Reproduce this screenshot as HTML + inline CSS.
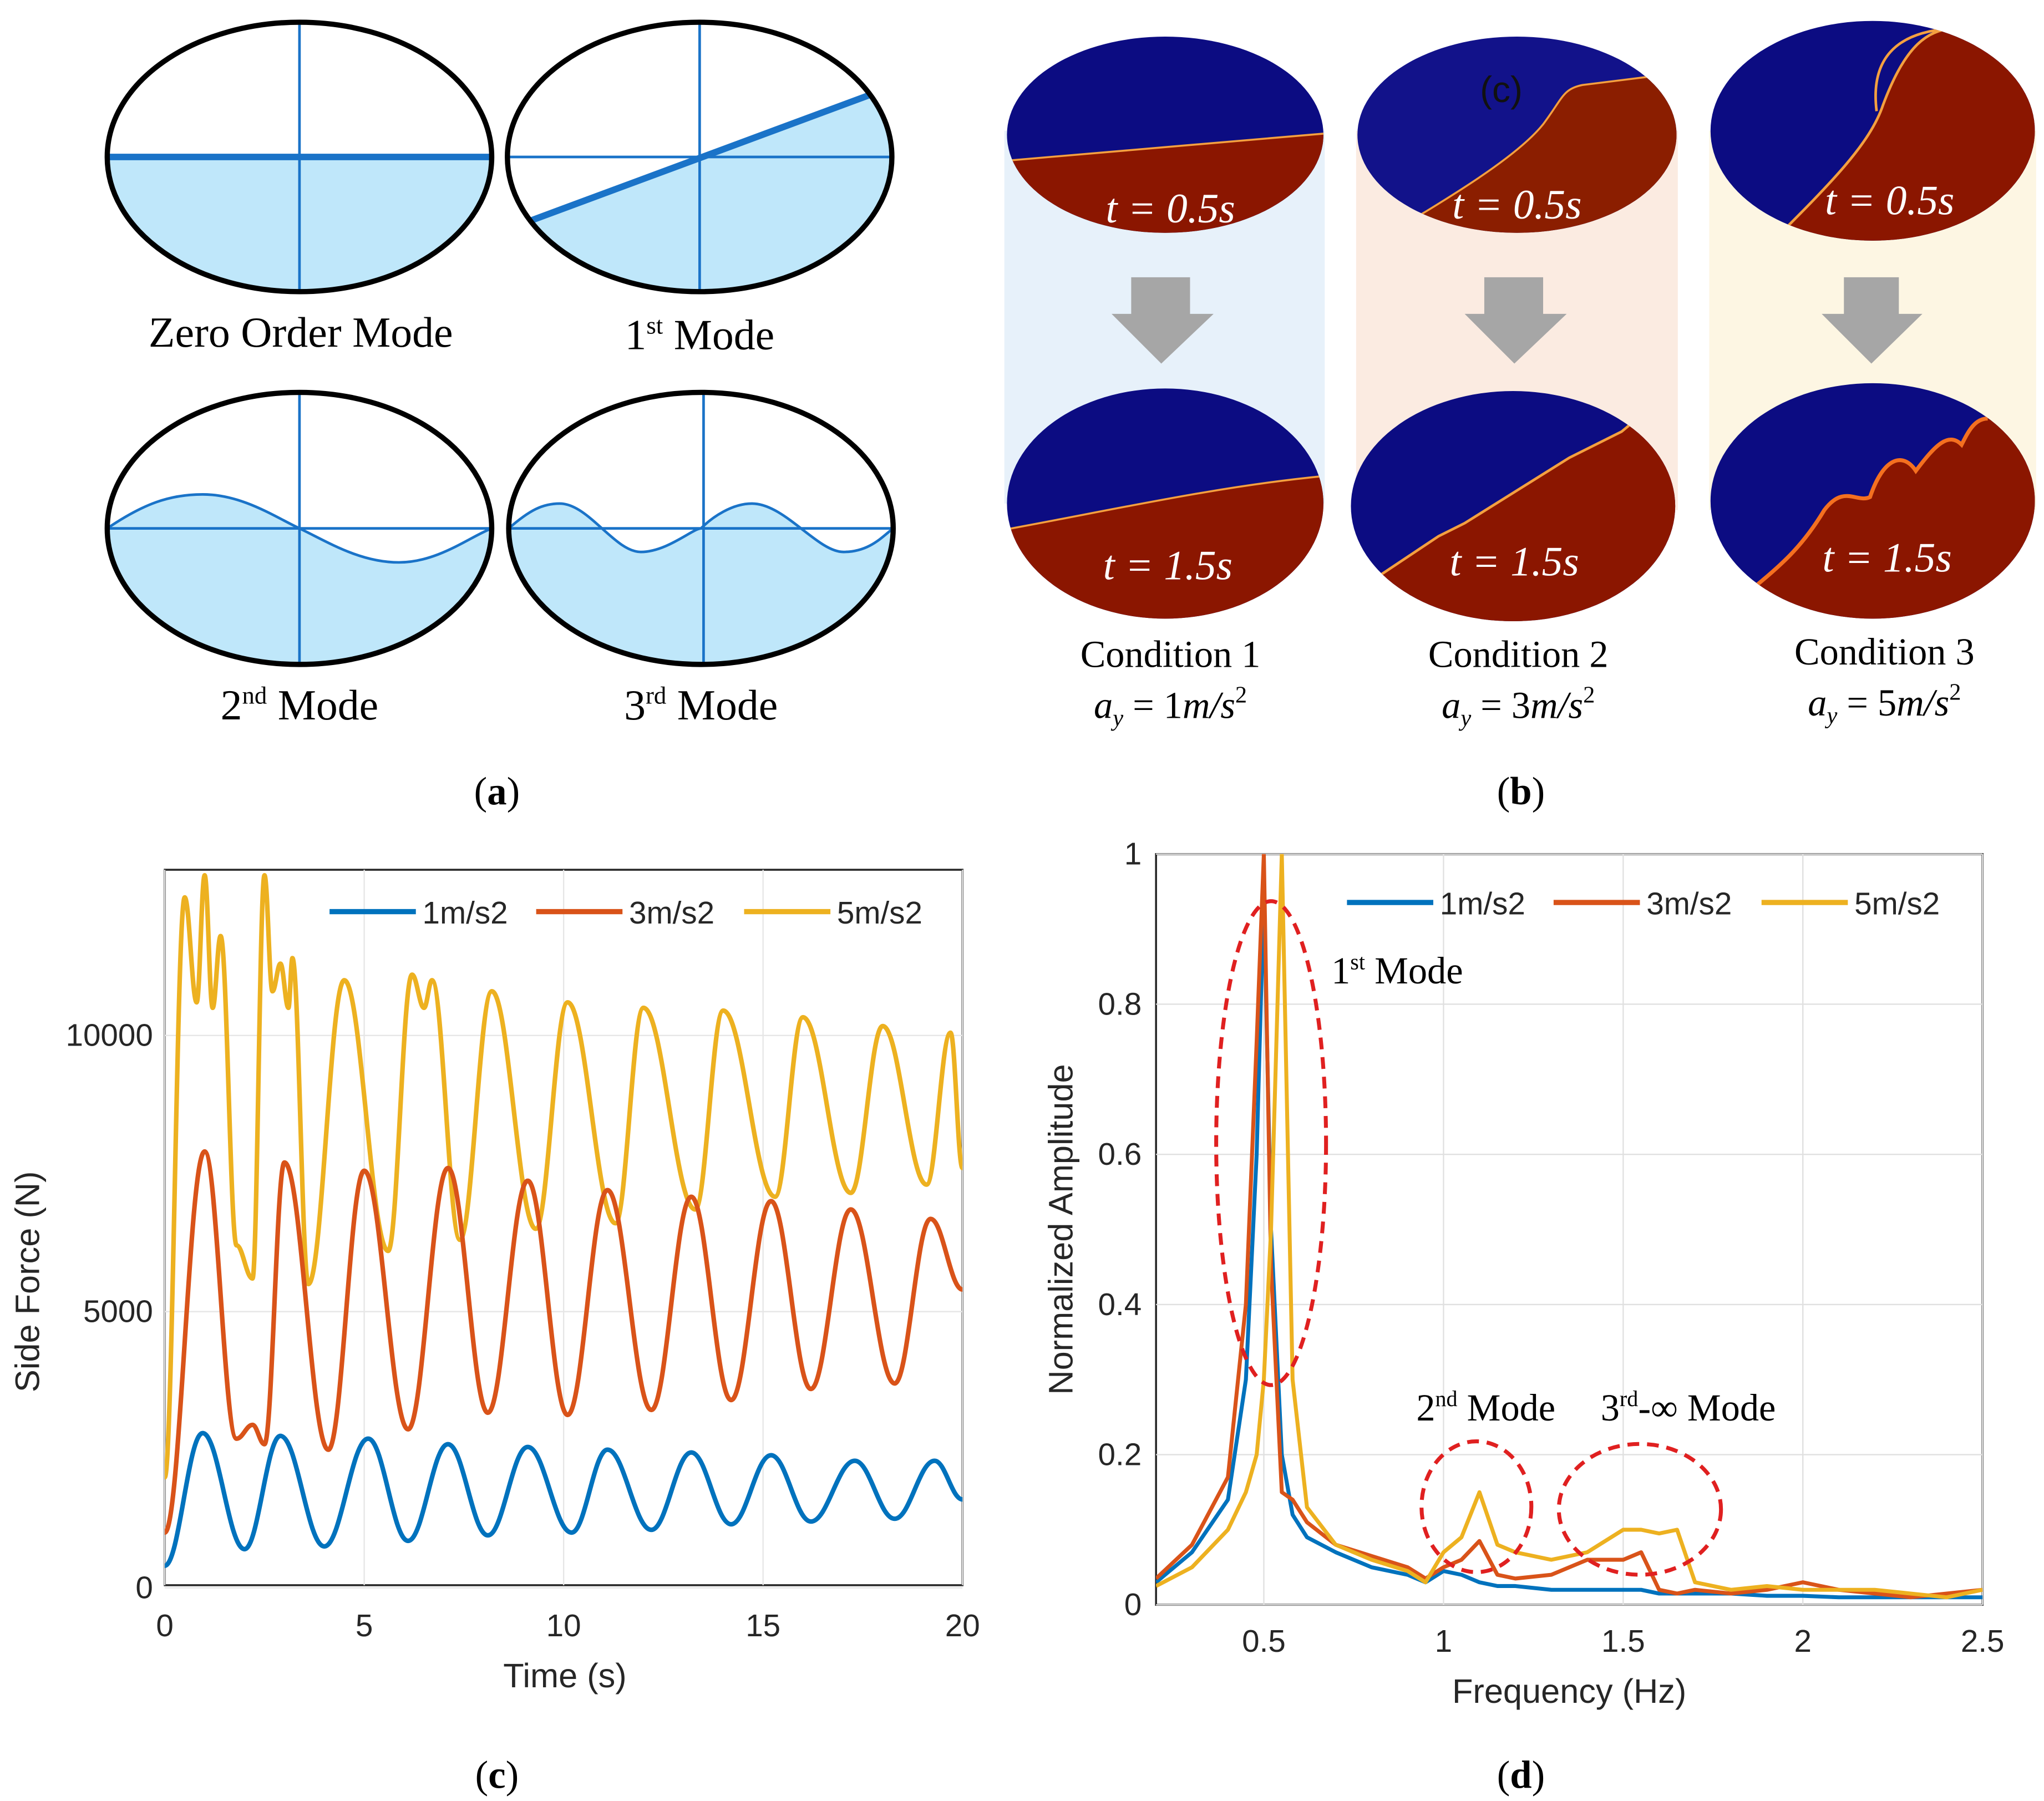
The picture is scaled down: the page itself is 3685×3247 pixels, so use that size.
<!DOCTYPE html>
<html><head><meta charset="utf-8">
<style>
html,body{margin:0;padding:0;background:#fff;}
svg{display:block;}
.serif{font-family:"Liberation Serif",serif;}
.sans{font-family:"Liberation Sans",sans-serif;}
</style></head>
<body>
<svg id="fig" width="3685" height="3247" viewBox="0 0 1563 1377" preserveAspectRatio="none" xmlns="http://www.w3.org/2000/svg">
<defs>
<clipPath id="e1"><ellipse cx="229" cy="120" rx="147" ry="103"/></clipPath>
<clipPath id="e2"><ellipse cx="535" cy="120" rx="147" ry="103"/></clipPath>
<clipPath id="e3"><ellipse cx="229" cy="404" rx="147" ry="104"/></clipPath>
<clipPath id="e4"><ellipse cx="536" cy="404" rx="147" ry="104"/></clipPath>
<clipPath id="b1"><ellipse cx="891" cy="103" rx="121" ry="75"/></clipPath>
<clipPath id="b2"><ellipse cx="1160" cy="103" rx="122" ry="75"/></clipPath>
<clipPath id="b3"><ellipse cx="1432" cy="100" rx="124" ry="84"/></clipPath>
<clipPath id="b4"><ellipse cx="891" cy="385" rx="121" ry="88"/></clipPath>
<clipPath id="b5"><ellipse cx="1157" cy="387" rx="124" ry="88"/></clipPath>
<clipPath id="b6"><ellipse cx="1432" cy="383" rx="124" ry="90"/></clipPath>
<clipPath id="pc"><rect x="126" y="665" width="610" height="547"/></clipPath>
<clipPath id="pd"><rect x="884" y="653" width="632" height="574"/></clipPath>
</defs>

<!-- Panel A -->
<g>
 <g>
  <rect x="80" y="120" width="300" height="110" fill="#bfe7fa" clip-path="url(#e1)"/>
  <line x1="229" y1="17" x2="229" y2="223" stroke="#1a73c8" stroke-width="2"/>
  <line x1="82" y1="120" x2="376" y2="120" stroke="#1a73c8" stroke-width="5"/>
  <ellipse cx="229" cy="120" rx="147" ry="103" fill="none" stroke="#000" stroke-width="4"/>
 </g>
 <g>
  <polygon points="380,176 690,62 690,230 380,230" fill="#bfe7fa" clip-path="url(#e2)"/>
  <line x1="388" y1="120" x2="682" y2="120" stroke="#1a73c8" stroke-width="2"/>
  <line x1="535" y1="17" x2="535" y2="223" stroke="#1a73c8" stroke-width="2"/>
  <line x1="405" y1="169" x2="664" y2="73" stroke="#1a73c8" stroke-width="5"/>
  <ellipse cx="535" cy="120" rx="147" ry="103" fill="none" stroke="#000" stroke-width="4"/>
 </g>
 <g>
  <path d="M82,404 C110,385 130,378 155,378 C185,378 210,395 229,404 C250,414 275,430 305,430 C335,430 360,410 376,404 L380,520 L78,520 Z" fill="#bfe7fa" clip-path="url(#e3)"/>
  <path d="M82,404 C110,385 130,378 155,378 C185,378 210,395 229,404 C250,414 275,430 305,430 C335,430 360,410 376,404" fill="none" stroke="#1a73c8" stroke-width="2"/>
  <line x1="82" y1="404" x2="376" y2="404" stroke="#1a73c8" stroke-width="2"/>
  <line x1="229" y1="300" x2="229" y2="508" stroke="#1a73c8" stroke-width="2"/>
  <ellipse cx="229" cy="404" rx="147" ry="104" fill="none" stroke="#000" stroke-width="4"/>
 </g>
 <g>
  <path d="M389,404 C405,390 415,385 428,385 C450,385 470,422 490,422 C510,422 530,404 536,404 C545,395 560,385 575,385 C600,385 625,422 645,422 C665,422 675,410 683,404 L690,520 L385,520 Z" fill="#bfe7fa" clip-path="url(#e4)"/>
  <path d="M389,404 C405,390 415,385 428,385 C450,385 470,422 490,422 C510,422 530,404 536,404 C545,395 560,385 575,385 C600,385 625,422 645,422 C665,422 675,410 683,404" fill="none" stroke="#1a73c8" stroke-width="2"/>
  <line x1="389" y1="404" x2="683" y2="404" stroke="#1a73c8" stroke-width="2"/>
  <line x1="538" y1="300" x2="538" y2="508" stroke="#1a73c8" stroke-width="2"/>
  <ellipse cx="536" cy="404" rx="147" ry="104" fill="none" stroke="#000" stroke-width="4"/>
 </g>
 <text class="serif" x="230" y="265" font-size="33" text-anchor="middle">Zero Order Mode</text>
 <text class="serif" x="535" y="267" font-size="33" text-anchor="middle">1<tspan font-size="19" dy="-12">st</tspan><tspan dy="12"> Mode</tspan></text>
 <text class="serif" x="229" y="550" font-size="33" text-anchor="middle">2<tspan font-size="19" dy="-12">nd</tspan><tspan dy="12"> Mode</tspan></text>
 <text class="serif" x="536" y="550" font-size="33" text-anchor="middle">3<tspan font-size="19" dy="-12">rd</tspan><tspan dy="12"> Mode</tspan></text>
 <text class="serif" x="380" y="615" font-size="30" text-anchor="middle">(<tspan font-weight="bold">a</tspan>)</text>
</g>

<!-- Panel B -->
<g>
 <rect x="768" y="100" width="245" height="285" fill="#e7f1fa"/>
 <rect x="1037" y="100" width="246" height="290" fill="#fbebe1"/>
 <rect x="1307" y="100" width="250" height="290" fill="#fdf6e3"/>
 <g fill="#a6a6a6">
  <polygon points="865,212 910,212 910,240 928,240 888,278 850,240 865,240"/>
  <polygon points="1135,212 1180,212 1180,240 1198,240 1158,278 1120,240 1135,240"/>
  <polygon points="1410,212 1452,212 1452,240 1470,240 1431,278 1393,240 1410,240"/>
 </g>
 <g clip-path="url(#b1)">
  <rect x="760" y="20" width="260" height="170" fill="#0c0c82"/>
  <polygon points="768,123 1014,102 1014,190 768,190" fill="#8b1600"/>
  <line x1="768" y1="123" x2="1014" y2="102" stroke="#f4a040" stroke-width="1.5"/>
 </g>
 <g clip-path="url(#b2)">
  <rect x="1030" y="20" width="260" height="170" fill="#12128a"/>
  <path d="M1060,180 C1110,150 1160,120 1180,95 C1195,75 1195,68 1210,65 L1290,55 L1290,190 L1030,190 Z" fill="#8b1e00"/>
  <path d="M1060,180 C1110,150 1160,120 1180,95 C1195,75 1195,68 1210,65 L1290,55" fill="none" stroke="#f4a040" stroke-width="1.5"/>
  <text class="sans" x="1148" y="78" font-size="28" fill="#111" text-anchor="middle">(c)</text>
 </g>
 <g clip-path="url(#b3)">
  <rect x="1300" y="10" width="270" height="190" fill="#0c0c82"/>
  <path d="M1355,185 C1400,140 1430,110 1440,80 C1455,40 1470,25 1490,22 L1570,10 L1570,200 L1300,200 Z" fill="#8b1600"/>
  <path d="M1355,185 C1400,140 1430,110 1440,80 C1455,40 1470,25 1490,22 M1490,22 C1450,25 1430,45 1435,85" fill="none" stroke="#f4a040" stroke-width="2"/>
 </g>
 <g clip-path="url(#b4)">
  <rect x="760" y="290" width="260" height="190" fill="#0c0c82"/>
  <path d="M768,405 C850,390 930,372 1012,364 L1012,480 L768,480 Z" fill="#8b1600"/>
  <path d="M768,405 C850,390 930,372 1012,364" fill="none" stroke="#f4a040" stroke-width="1.5"/>
 </g>
 <g clip-path="url(#b5)">
  <rect x="1030" y="290" width="260" height="190" fill="#0c0c82"/>
  <path d="M1055,440 L1070,430 L1085,420 L1100,410 L1120,400 L1160,375 L1200,350 L1240,330 L1252,320 L1290,330 L1290,480 L1030,480 Z" fill="#8b1600"/>
  <path d="M1055,440 L1070,430 L1085,420 L1100,410 L1120,400 L1160,375 L1200,350 L1240,330 L1252,320" fill="none" stroke="#f4a040" stroke-width="2"/>
 </g>
 <g clip-path="url(#b6)">
  <rect x="1300" y="285" width="270" height="200" fill="#0c0c82"/>
  <path d="M1340,450 C1365,430 1380,415 1395,390 C1410,370 1420,385 1430,380 C1440,350 1455,345 1465,360 C1480,340 1490,330 1500,340 C1505,330 1510,320 1520,320 L1570,330 L1570,485 L1300,485 Z" fill="#8b1600"/>
  <path d="M1340,450 C1365,430 1380,415 1395,390 C1410,370 1420,385 1430,380 C1440,350 1455,345 1465,360 C1480,340 1490,330 1500,340 C1505,330 1510,320 1520,320" fill="none" stroke="#f47020" stroke-width="3"/>
 </g>
 <g class="serif" fill="#fff" font-size="32" font-style="italic" text-anchor="middle">
  <text x="895" y="170">t = 0.5s</text>
  <text x="1160" y="167">t = 0.5s</text>
  <text x="1445" y="164">t = 0.5s</text>
  <text x="893" y="443">t = 1.5s</text>
  <text x="1158" y="440">t = 1.5s</text>
  <text x="1443" y="437">t = 1.5s</text>
 </g>
 <g class="serif" font-size="29" text-anchor="middle" fill="#000">
  <text x="895" y="510">Condition 1</text>
  <text x="1161" y="510">Condition 2</text>
  <text x="1441" y="508">Condition 3</text>
  <text x="895" y="549" font-style="italic">a<tspan font-size="18" dy="6">y</tspan><tspan dy="-6" font-style="normal"> = 1</tspan>m/s<tspan font-size="18" dy="-12" font-style="normal">2</tspan></text>
  <text x="1161" y="549" font-style="italic">a<tspan font-size="18" dy="6">y</tspan><tspan dy="-6" font-style="normal"> = 3</tspan>m/s<tspan font-size="18" dy="-12" font-style="normal">2</tspan></text>
  <text x="1441" y="547" font-style="italic">a<tspan font-size="18" dy="6">y</tspan><tspan dy="-6" font-style="normal"> = 5</tspan>m/s<tspan font-size="18" dy="-12" font-style="normal">2</tspan></text>
 </g>
 <text class="serif" x="1163" y="615" font-size="30" text-anchor="middle">(<tspan font-weight="bold">b</tspan>)</text>
</g>

<!-- Panel C -->
<g id="chartC">
 <rect x="126" y="665" width="610" height="547" fill="#fff" stroke="#262626" stroke-width="1.5"/>
 <g id="cGrid"></g>
 <g id="cSeries" clip-path="url(#pc)"></g>
 <g id="cTicks" class="sans" font-size="24" fill="#262626"></g>
 <text class="sans" x="432" y="1290" font-size="26" text-anchor="middle" fill="#262626">Time (s)</text>
 <text class="sans" x="30" y="980" font-size="26" text-anchor="middle" fill="#262626" transform="rotate(-90 30 980)">Side Force (N)</text>
 <g class="sans" font-size="24" fill="#262626">
  <line x1="252" y1="697" x2="318" y2="697" stroke="#0072bd" stroke-width="4"/><text x="323" y="706">1m/s2</text>
  <line x1="410" y1="697" x2="476" y2="697" stroke="#d95319" stroke-width="4"/><text x="481" y="706">3m/s2</text>
  <line x1="569" y1="697" x2="635" y2="697" stroke="#edb120" stroke-width="4"/><text x="640" y="706">5m/s2</text>
 </g>
 <text class="serif" x="380" y="1367" font-size="30" text-anchor="middle">(<tspan font-weight="bold">c</tspan>)</text>
</g>

<!-- Panel D -->
<g id="chartD">
 <rect x="884" y="653" width="632" height="574" fill="#fff" stroke="#262626" stroke-width="1.5"/>
 <g id="dGrid"></g>
 <g id="dSeries" clip-path="url(#pd)"></g>
 <g id="dTicks" class="sans" font-size="24" fill="#262626"></g>
 <text class="sans" x="1200" y="1302" font-size="26" text-anchor="middle" fill="#262626">Frequency (Hz)</text>
 <text class="sans" x="820" y="940" font-size="26" text-anchor="middle" fill="#262626" transform="rotate(-90 820 940)">Normalized Amplitude</text>
 <g class="sans" font-size="24" fill="#262626">
  <line x1="1030" y1="690" x2="1096" y2="690" stroke="#0072bd" stroke-width="4"/><text x="1101" y="699">1m/s2</text>
  <line x1="1188" y1="690" x2="1254" y2="690" stroke="#d95319" stroke-width="4"/><text x="1259" y="699">3m/s2</text>
  <line x1="1347" y1="690" x2="1413" y2="690" stroke="#edb120" stroke-width="4"/><text x="1418" y="699">5m/s2</text>
 </g>
 <g fill="none" stroke="#e02020" stroke-width="3" stroke-dasharray="9,6">
  <ellipse cx="972" cy="874" rx="42" ry="185"/>
  <ellipse cx="1129" cy="1152" rx="42" ry="50"/>
  <ellipse cx="1254" cy="1154" rx="62" ry="50"/>
 </g>
 <g class="serif" font-size="29" fill="#000">
  <text x="1018" y="752">1<tspan font-size="17" dy="-11">st</tspan><tspan dy="11"> Mode</tspan></text>
  <text x="1083" y="1086">2<tspan font-size="17" dy="-11">nd</tspan><tspan dy="11"> Mode</tspan></text>
  <text x="1224" y="1086">3<tspan font-size="17" dy="-11">rd</tspan><tspan dy="11">-∞ Mode</tspan></text>
 </g>
 <text class="serif" x="1163" y="1367" font-size="30" text-anchor="middle">(<tspan font-weight="bold">d</tspan>)</text>
</g>
</svg>

<script>
// ---- Chart C data ----
const cTimes1 = [0, 0.95, 2.0, 2.9, 4.0, 5.1, 6.1, 7.1, 8.1, 9.1, 10.2, 11.1, 12.2, 13.2, 14.2, 15.2, 16.2, 17.3, 18.3, 19.3, 20];
const cForce1 = [400, 2800, 700, 2750, 750, 2700, 850, 2600, 950, 2550, 1000, 2500, 1050, 2450, 1150, 2400, 1200, 2300, 1250, 2300, 1600];
const cTimes3 = [0, 1.0, 1.8, 2.2, 2.5, 3.0, 4.1, 5.0, 6.1, 7.1, 8.1, 9.1, 10.1, 11.1, 12.2, 13.2, 14.2, 15.2, 16.2, 17.2, 18.3, 19.2, 20];
const cForce3 = [1000, 7900, 2700, 2950, 2600, 7700, 2500, 7550, 2870, 7600, 3170, 7370, 3130, 7200, 3220, 7080, 3400, 7000, 3600, 6850, 3700, 6680, 5400];
const cTimes5 = [0, 0.5, 0.8, 1.0, 1.2, 1.4, 1.8, 2.2, 2.5, 2.7, 2.9, 3.1, 3.2, 3.6, 4.5, 5.6, 6.2, 6.5, 6.7, 7.4, 8.2, 9.3, 10.1, 11.3, 12.0, 13.3, 14.0, 15.3, 16.0, 17.2, 18.0, 19.1, 19.7, 20];
const cForce5 = [2000, 12500, 10600, 12900, 10500, 11800, 6200, 5600, 12900, 10800, 11300, 10500, 11400, 5500, 11000, 6100, 11100, 10500, 11000, 6300, 10800, 6500, 10600, 6600, 10500, 6850, 10450, 7080, 10330, 7150, 10170, 7300, 10050, 7600];
const cXTicks = [0, 5, 10, 15, 20];
const cYTicks = [0, 5000, 10000];

// ---- Chart D data ----
const dFreq = [0.2,0.3,0.4,0.45,0.48,0.5,0.52,0.55,0.58,0.62,0.7,0.8,0.9,0.95,1.0,1.05,1.1,1.15,1.2,1.3,1.4,1.5,1.55,1.6,1.65,1.7,1.8,1.9,2.0,2.1,2.2,2.3,2.4,2.5];
const dAmp1 = [0.03,0.07,0.14,0.3,0.6,0.95,0.5,0.2,0.12,0.09,0.07,0.05,0.04,0.03,0.045,0.04,0.03,0.025,0.025,0.02,0.02,0.02,0.02,0.015,0.015,0.015,0.015,0.012,0.012,0.01,0.01,0.01,0.01,0.01];
const dAmp3 = [0.035,0.08,0.17,0.4,0.75,1.0,0.45,0.15,0.14,0.11,0.08,0.065,0.05,0.035,0.05,0.06,0.085,0.04,0.035,0.04,0.06,0.06,0.07,0.02,0.015,0.02,0.015,0.02,0.03,0.02,0.015,0.01,0.015,0.02];
const dAmp5 = [0.025,0.05,0.1,0.15,0.2,0.3,0.5,1.0,0.3,0.13,0.08,0.06,0.045,0.03,0.07,0.09,0.15,0.08,0.07,0.06,0.07,0.1,0.1,0.095,0.1,0.03,0.02,0.025,0.02,0.02,0.02,0.015,0.01,0.02];
const dXTicks = [0.5, 1, 1.5, 2, 2.5];
const dYTicks = [0, 0.2, 0.4, 0.6, 0.8, 1];

const NS = "http://www.w3.org/2000/svg";
function mk(tag, attrs, parent){ const e=document.createElementNS(NS,tag); for(const k in attrs) e.setAttribute(k,attrs[k]); parent.appendChild(e); return e; }

const cx = t => 126 + t/20*610;
const cy = v => 1214 - v/13000*549;
const dx = f => 884 + (f-0.2)/2.3*632;
const dy = a => 1227 - a*574;

function smoothPath(xs, ys, fx, fy){
  let d = "M"+fx(xs[0]).toFixed(2)+","+fy(ys[0]).toFixed(2);
  for(let i=1;i<xs.length;i++){
    const x0=fx(xs[i-1]), y0=fy(ys[i-1]), x1=fx(xs[i]), y1=fy(ys[i]), h=(x1-x0)/2.6;
    d += " C"+(x0+h).toFixed(2)+","+y0.toFixed(2)+" "+(x1-h).toFixed(2)+","+y1.toFixed(2)+" "+x1.toFixed(2)+","+y1.toFixed(2);
  }
  return d;
}
function linePath(xs, ys, fx, fy){
  return xs.map((x,i)=>(i?"L":"M")+fx(x).toFixed(2)+","+fy(ys[i]).toFixed(2)).join(" ");
}

const cGrid=document.getElementById('cGrid'), cTicks=document.getElementById('cTicks');
cXTicks.forEach(t=>{
  const l=mk('line',{x1:cx(t),x2:cx(t),y1:665,y2:1212,stroke:'#e6e6e6','stroke-width':1},cGrid);
  
  
  const tx=mk('text',{x:cx(t),y:1251,'text-anchor':'middle'},cTicks); tx.textContent=t;
  
  
});
cYTicks.forEach(v=>{
  const l=mk('line',{x1:126,x2:736,y1:cy(v),y2:cy(v),stroke:'#e6e6e6','stroke-width':1},cGrid);
  
  
  const tx=mk('text',{x:117,y:cy(v)+8,'text-anchor':'end'},cTicks); tx.textContent=v;
  
  
});
const cS=document.getElementById('cSeries');
[[cTimes5,cForce5,'#edb120','series-5ms2-c'],[cTimes3,cForce3,'#d95319','series-3ms2-c'],[cTimes1,cForce1,'#0072bd','series-1ms2-c']].forEach(s=>{
  const p=mk('path',{d:smoothPath(s[0],s[1],cx,cy),fill:'none',stroke:s[2],'stroke-width':3.5,'stroke-linejoin':'round'},cS);
  
  
});

const dGrid=document.getElementById('dGrid'), dTicks=document.getElementById('dTicks');
dXTicks.forEach(f=>{
  const l=mk('line',{x1:dx(f),x2:dx(f),y1:653,y2:1227,stroke:'#e0e0e0','stroke-width':1},dGrid);
  
  
  const tx=mk('text',{x:dx(f),y:1263,'text-anchor':'middle'},dTicks); tx.textContent=f;
  
  
});
dYTicks.forEach(a=>{
  const l=mk('line',{x1:884,x2:1516,y1:dy(a),y2:dy(a),stroke:'#e0e0e0','stroke-width':1},dGrid);
  
  
  const tx=mk('text',{x:873,y:dy(a)+8,'text-anchor':'end'},dTicks); tx.textContent=a;
  
  
});
const dS=document.getElementById('dSeries');
[[dAmp1,'#0072bd','series-1ms2-d'],[dAmp3,'#d95319','series-3ms2-d'],[dAmp5,'#edb120','series-5ms2-d']].forEach(s=>{
  const p=mk('path',{d:linePath(dFreq,s[0],dx,dy),fill:'none',stroke:s[1],'stroke-width':3,'stroke-linejoin':'round'},dS);
  
  
});
</script>
</body></html>
